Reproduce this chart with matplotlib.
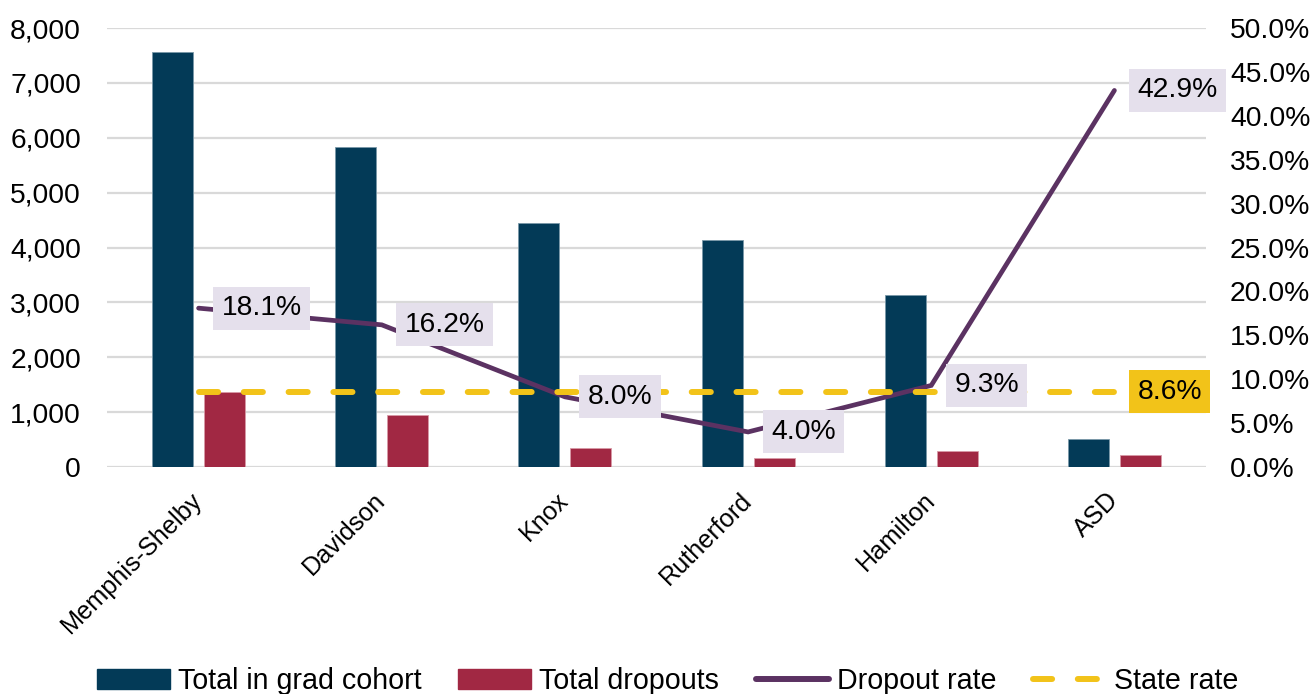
import numpy as np
import matplotlib
matplotlib.use('Agg')
import matplotlib.pyplot as plt
from matplotlib.patches import Patch
from matplotlib.lines import Line2D
from matplotlib.ticker import FuncFormatter

plt.rcParams['font.family'] = ['Liberation Sans', 'DejaVu Sans']

districts = ['Memphis-Shelby', 'Davidson', 'Knox', 'Rutherford', 'Hamilton', 'ASD']
cohort = [7560, 5840, 4450, 4130, 3130, 510]
dropouts = [1366, 947, 355, 165, 290, 219]
dropout_rate = [0.181, 0.162, 0.080, 0.040, 0.093, 0.429]
state_rate = 0.086

c_teal = '#033A57'
c_red = '#A12843'
c_purple = '#5B3262'
c_yellow = '#F2C319'
c_lab = '#E5E0EC'
fs = 20.3

fig = plt.figure(figsize=(13.13, 6.94), dpi=100)
ax = fig.add_axes([0.0815, 0.327, 0.837, 0.6325])
ax2 = ax.twinx()

x = np.arange(len(districts))
w = 0.224
off = 0.142
ax.bar(x - off, cohort, w, color=c_teal, edgecolor='#7a98a8', linewidth=0.6, zorder=2)
ax.bar(x + off, dropouts, w, color=c_red, edgecolor='#d89aa6', linewidth=0.6, zorder=2)

ax.set_xlim(-0.5, len(districts) - 0.5)
ax.set_ylim(0, 8000)
ax.set_yticks(range(0, 8001, 1000))
ax.yaxis.set_major_formatter(FuncFormatter(lambda v, p: '{:,.0f}'.format(v)))
ax.grid(axis='y', color='#D9D9D9', linewidth=1.6, zorder=0)
ax.set_axisbelow(True)
ax.set_xticks(x)
ax.set_xticklabels(districts, rotation=45, ha='right', va='center',
                   rotation_mode='anchor', fontsize=18.2)
ax.tick_params(axis='x', length=0, pad=21)
ax.tick_params(axis='y', length=0, pad=18.7, labelsize=fs)

ax2.plot(x, dropout_rate, color=c_purple, linewidth=3.4, solid_capstyle='round',
         solid_joinstyle='miter', zorder=3)
ax2.plot(x, [state_rate] * len(x), color=c_yellow, linewidth=4.3,
         dashes=(3.2, 4.3), dash_capstyle='round', zorder=3)
ax2.set_ylim(0, 0.5)
ax2.set_yticks(np.arange(0, 0.501, 0.05))
ax2.yaxis.set_major_formatter(FuncFormatter(lambda v, p: '{:.1f}%'.format(v * 100)))
ax2.tick_params(axis='y', length=0, pad=17.3, labelsize=fs)

for xi, r in zip(x, dropout_rate):
    ax2.annotate('{:.1f}%'.format(r * 100), (xi, r), xytext=(23, 0),
                 textcoords='offset pixels', ha='left', va='center', fontsize=fs,
                 bbox=dict(boxstyle='square,pad=0.3', fc=c_lab, ec='none'), zorder=5)
ax2.annotate('{:.1f}%'.format(state_rate * 100), (x[-1], state_rate), xytext=(23, 0),
             textcoords='offset pixels', ha='left', va='center', fontsize=fs,
             bbox=dict(boxstyle='square,pad=0.3', fc=c_yellow, ec='none'), zorder=5)

for a in (ax, ax2):
    for s in a.spines.values():
        s.set_visible(False)

handles = [Patch(color=c_teal), Patch(color=c_red),
           Line2D([], [], color=c_purple, linewidth=4.3, solid_capstyle='round'),
           Line2D([], [], color=c_yellow, linewidth=4.3, dashes=(3.2, 4.3), dash_capstyle='round')]
labels = ['Total in grad cohort', 'Total dropouts', 'Dropout rate', 'State rate']
fig.legend(handles, labels, loc='center', bbox_to_anchor=(0.5085, 0.019), ncol=4,
           frameon=False, fontsize=20.6, handlelength=2.56, handletextpad=0.28,
           columnspacing=1.28, borderpad=0)

fig.savefig('out.png', dpi=100)
